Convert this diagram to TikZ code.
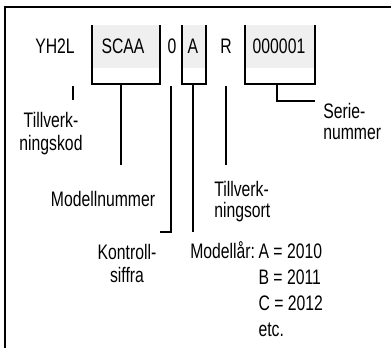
\documentclass[tikz,border=0pt]{standalone}
\usepackage{fontspec}
\setmainfont[FakeStretch=0.75]{Liberation Sans}
\definecolor{boxgray}{HTML}{EFEFEF}
\begin{document}
\begin{tikzpicture}[x=1pt,y=-1pt,
  line width=2.6pt,
  txt/.style={font=\fontsize{21}{23}\selectfont, inner sep=0pt, anchor=base},
  lbl/.style={font=\fontsize{21}{21}\selectfont, inner sep=0pt, anchor=base west, align=left},
  lblc/.style={font=\fontsize{21}{23}\selectfont, inner sep=0pt, anchor=base, align=center},
  ubox/.style={line width=2.6pt}]
\useasboundingbox (0,0) rectangle (391,348);
% frame
\coordinate (fbl) at (5,349);
\coordinate (ftl) at (5,7);
\coordinate (ftr) at (392,7);
\draw (fbl) -- (ftl) -- (ftr);
% boxes
\fill[boxgray] (92,25) rectangle (160,68);
\fill[boxgray] (182,25) rectangle (206,68);
\fill[boxgray] (245,25) rectangle (315,68);
\draw[ubox] (92,25) -- (92,84) -- (160,84) -- (160,25);
\draw[ubox] (182,25) -- (182,84) -- (206,84) -- (206,25);
\draw[ubox] (245,25) -- (245,84) -- (315,84) -- (315,25);
% box texts
\node[txt] (yh) at (55,53) {YH2L};
\node[txt] (scaa) at (123,53) {SCAA};
\node[txt] (zero) at (172,53) {0};
\node[txt] (a) at (193,53) {A};
\node[txt] (r) at (226,53) {R};
\node[txt] (ser) at (279,53) {000001};
% connector end points
\coordinate (yhB) at (73,86);
\coordinate (yhE) at (73,100);
\coordinate (scB) at (121,84);
\coordinate (scE) at (121,165);
\coordinate (zB) at (171,86);
\coordinate (zC) at (171,232);
\coordinate (zE) at (160,232);
\coordinate (aB) at (193,84);
\coordinate (aE) at (193,232);
\coordinate (rB) at (226,86);
\coordinate (rE) at (226,165);
\coordinate (sB) at (277,84);
\coordinate (sC) at (277,101);
\coordinate (sE) at (315,101);
\draw (yhB) -- (yhE);
\draw (scB) -- (scE);
\draw (zB) -- (zC) -- (zE);
\draw (aB) -- (aE);
\draw (rB) -- (rE);
\draw (sB) -- (sC) -- (sE);
% labels
\node[lblc] (tk) at (51,150) {Tillverk-\\ningskod};
\node[lblc] (mn) at (103,206) {Modellnummer};
\node[lblc] (ks) at (127,282) {Kontroll-\\siffra};
\node[lbl] (to) at (213,217) {Tillverk-\\ningsort};
\node[lbl] (sn) at (322,139) {Serie-\\nummer};
\node[font=\fontsize{21}{26}\selectfont, inner sep=0pt, anchor=base west] (ml) at (189,258)
  {\begin{tabular}[t]{@{}l@{\,}l@{}}Modellår: & A = 2010\\ & B = 2011\\ & C = 2012\\ & etc.\end{tabular}};
\end{tikzpicture}
\end{document}
